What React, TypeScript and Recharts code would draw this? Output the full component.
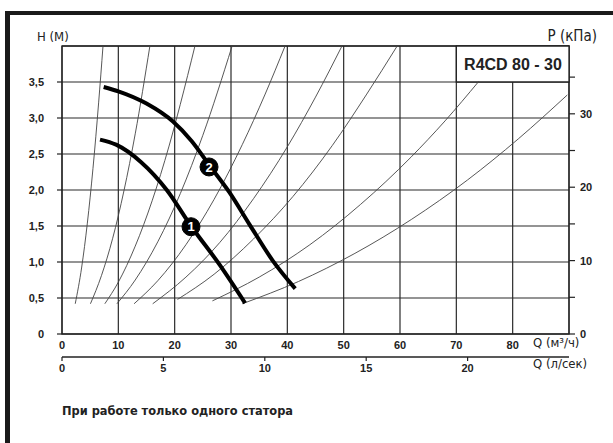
import { LineChart, Line, XAxis, YAxis, CartesianGrid, ReferenceArea, ReferenceDot } from 'recharts'

const qTicks = [0, 10, 20, 30, 40, 50, 60, 70, 80]
const lsTicks = [0, 5, 10, 15, 20]
const hTicks = [0, 0.5, 1, 1.5, 2, 2.5, 3, 3.5]
const pTicks = [0, 5, 10, 15, 20, 25, 30, 35]

const M3H_PER_LS = 3.6
const qDomain = [0, 90]
const hDomain = [0, 4]
const pDomain = [0, 39.24]
// л/сек ticks placed on the м³/ч scale
const lsTicksQ = lsTicks.map(v => v * M3H_PER_LS)

// pump curves (thick)
const pump1 = [
  { q: 6.75, h: 2.7 }, { q: 9.6, h: 2.63 }, { q: 14, h: 2.39 }, { q: 18.6, h: 2.0 },
  { q: 22.9, h: 1.5 }, { q: 28, h: 0.96 }, { q: 32.5, h: 0.43 }
]
const pump2 = [
  { q: 7.4, h: 3.43 }, { q: 10, h: 3.37 }, { q: 15, h: 3.2 }, { q: 19.7, h: 2.95 }, { q: 23, h: 2.68 },
  { q: 26.1, h: 2.35 }, { q: 29.7, h: 1.97 }, { q: 33.3, h: 1.52 }, { q: 37.4, h: 1.02 }, { q: 41.4, h: 0.63 }
]

// system curves (thin)
const sys1 = [{ q: 2.35, h: 0.42 }, { q: 3.5, h: 0.93 }, { q: 4.5, h: 1.54 }, { q: 5.5, h: 2.3 }, { q: 6.5, h: 3.21 }, { q: 7.28, h: 4 }]
const sys2 = [{ q: 5.05, h: 0.42 }, { q: 7, h: 0.81 }, { q: 9, h: 1.33 }, { q: 11, h: 1.99 }, { q: 13, h: 2.78 }, { q: 15.6, h: 4 }]
const sys3 = [{ q: 7.6, h: 0.42 }, { q: 10, h: 0.72 }, { q: 13, h: 1.22 }, { q: 16, h: 1.85 }, { q: 19, h: 2.61 }, { q: 21, h: 3.19 }, { q: 23.6, h: 4 }]
const sys4 = [{ q: 9.75, h: 0.42 }, { q: 13, h: 0.75 }, { q: 17, h: 1.28 }, { q: 21, h: 1.95 }, { q: 25, h: 2.76 }, { q: 30.2, h: 4 }]
const sys5 = [{ q: 12.8, h: 0.42 }, { q: 17, h: 0.74 }, { q: 22, h: 1.24 }, { q: 27, h: 1.87 }, { q: 32, h: 2.63 }, { q: 36, h: 3.32 }, { q: 39.6, h: 4 }]
const sys6 = [{ q: 16.1, h: 0.42 }, { q: 22, h: 0.79 }, { q: 28, h: 1.27 }, { q: 34, h: 1.88 }, { q: 40, h: 2.6 }, { q: 45, h: 3.29 }, { q: 49.7, h: 4 }]
const sys7 = [{ q: 20.5, h: 0.48 }, { q: 27, h: 0.83 }, { q: 34, h: 1.32 }, { q: 41, h: 1.91 }, { q: 48, h: 2.62 }, { q: 54, h: 3.32 }, { q: 59.5, h: 4 }]
const sys8 = [{ q: 26.7, h: 0.46 }, { q: 35, h: 0.79 }, { q: 44, h: 1.24 }, { q: 53, h: 1.8 }, { q: 62, h: 2.46 }, { q: 68, h: 2.96 }, { q: 74, h: 3.51 }]
const sys9 = [{ q: 32, h: 0.42 }, { q: 42, h: 0.73 }, { q: 52, h: 1.12 }, { q: 62, h: 1.59 }, { q: 72, h: 2.14 }, { q: 81, h: 2.71 }, { q: 89.7, h: 3.32 }]
const systemCurves = [sys1, sys2, sys3, sys4, sys5, sys6, sys7, sys8, sys9]

const badges = [
  { label: '1', q: 22.9, h: 1.49 },
  { label: '2', q: 26.1, h: 2.32 }
]

const sans = "'Liberation Sans', Arial, sans-serif"
const narrow = "'Liberation Sans Narrow', 'DejaVu Sans Condensed', 'Liberation Sans', sans-serif"
const tickFont = { fontSize: 11, fontWeight: 700, fill: '#222', fontFamily: sans }
const dark = { stroke: '#222', strokeWidth: 1.2 }
const lsLine = { stroke: '#222', strokeWidth: 1.3 }

const fmtH = (v: number) => (v === 0 ? '0' : v.toFixed(1).replace('.', ','))
const fmtP = (v: number) => (v % 10 === 0 ? String(v) : '')
const fmtLs = (v: number) => String(Math.round(v / M3H_PER_LS))

export default function App() {
  return (
    <div style={{ position: 'absolute', left: 0, top: 0, width: 613, height: 443, background: '#fff' }}>
      <LineChart width={613} height={443} margin={{ top: 46, right: 0, bottom: 56, left: 0 }}>
        <CartesianGrid xAxisId={0} yAxisId={0} stroke="#2a2a2a" strokeWidth={1.2} />
        <XAxis xAxisId={0} dataKey="q" type="number" domain={qDomain} ticks={qTicks} height={23}
          axisLine={false} tickLine={false} tickSize={4} tickMargin={3} tick={tickFont} interval={0} allowDataOverflow />
        <XAxis xAxisId={1} dataKey="q" type="number" domain={qDomain} ticks={lsTicksQ} tickFormatter={fmtLs} height={30}
          axisLine={lsLine} tickLine={dark} tickSize={4} tickMargin={3}
          tick={tickFont} interval={0} allowDataOverflow />
        <YAxis yAxisId={0} type="number" domain={hDomain} ticks={hTicks} width={62} tickFormatter={fmtH}
          axisLine={false} tickLine={dark} tickSize={5} tickMargin={13} tick={tickFont} interval={0} allowDataOverflow />
        <YAxis yAxisId={1} orientation="right" type="number" domain={pDomain} ticks={pTicks} width={44}
          tickFormatter={fmtP} axisLine={false} tickLine={dark} tickSize={6} tickMargin={5}
          tick={tickFont} interval={0} allowDataOverflow />
        <ReferenceArea xAxisId={0} yAxisId={0} x1={0} x2={90} y1={0} y2={4} fill="none" stroke="#222" strokeWidth={1.3} />
        <ReferenceArea xAxisId={0} yAxisId={0} x1={70} x2={90} y1={3.5} y2={4} fill="#fff" fillOpacity={1} stroke="#222" strokeWidth={1.3} />
        {systemCurves.map((d, i) => (
          <Line key={i} xAxisId={0} yAxisId={0} data={d} dataKey="h" type="monotone" stroke="#444"
            strokeWidth={0.9} dot={false} isAnimationActive={false} />
        ))}
        <Line xAxisId={1} yAxisId={0} data={pump1} dataKey="h" type="monotone" stroke="#000" strokeWidth={4}
          dot={false} isAnimationActive={false} />
        <Line xAxisId={1} yAxisId={0} data={pump2} dataKey="h" type="monotone" stroke="#000" strokeWidth={4}
          dot={false} isAnimationActive={false} />
        {badges.map(b => (
          <ReferenceDot key={b.label} xAxisId={0} yAxisId={0} x={b.q} y={b.h} r={9} fill="#000" stroke="#000"
            label={{ value: b.label, position: 'center', fill: '#fff', fontSize: 13, fontWeight: 700, fontFamily: sans }} />
        ))}
      </LineChart>
      <svg width={613} height={443} style={{ position: 'absolute', left: 0, top: 0, pointerEvents: 'none' }}>
        <rect x={5} y={11} width={608} height={4} fill="#1a1a1a" />
        <rect x={5} y={11} width={5} height={432} fill="#1a1a1a" />
        <text x={37} y={41} fontSize={13} fill="#222" fontFamily={narrow}>H (М)</text>
        <text x={597} y={41} fontSize={15} fill="#222" fontFamily={narrow} textAnchor="end">P (кПа)</text>
        <text x={513} y={70} fontSize={16} fontWeight={700} fill="#222" textAnchor="middle" fontFamily={sans}>R4CD 80 - 30</text>
        <text x={533} y={347} fontSize={13} fill="#222" fontFamily={narrow}>Q (м³/ч)</text>
        <text x={533} y={368} fontSize={13} fill="#222" fontFamily={narrow}>Q (л/сек)</text>
        <text x={62} y={415} fontSize={13} fontWeight={700} fill="#222" fontFamily={narrow}
          textLength={231} lengthAdjust="spacingAndGlyphs">При работе только одного статора</text>
      </svg>
    </div>
  )
}
